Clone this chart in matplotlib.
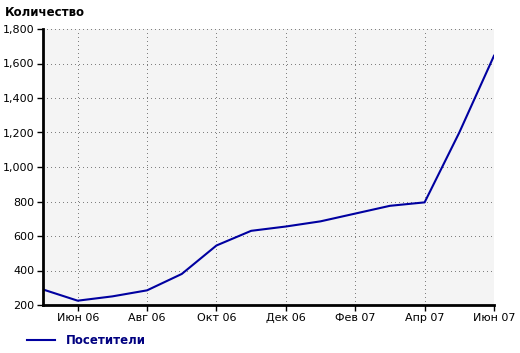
import matplotlib.pyplot as plt
import numpy as np
from matplotlib.lines import Line2D

months = ['Май 06', 'Июн 06', 'Июл 06', 'Авг 06', 'Сен 06', 'Окт 06', 'Ноя 06',
          'Дек 06', 'Янв 07', 'Фев 07', 'Мар 07', 'Апр 07', 'Май 07', 'Июн 07']
visitors = [290, 225, 250, 285, 380, 545, 630, 655, 685, 730, 775, 795, 1200, 1645]
tick_labels = ['Июн 06', 'Авг 06', 'Окт 06', 'Дек 06', 'Фев 07', 'Апр 07', 'Июн 07']
y_ticks = [200, 400, 600, 800, 1000, 1200, 1400, 1600, 1800]

plt.rcParams['font.family'] = ['DejaVu Sans']

fig = plt.figure(figsize=(5.2, 3.53), dpi=100)
ax = fig.add_axes([43 / 520, 1 - 305 / 353, 451 / 520, 276 / 353])
ax.set_facecolor('#f4f4f4')

x = np.arange(len(months))
ax.plot(x, visitors, color='#0000a0', linewidth=1.5)

ax.set_xlim(0, len(months) - 1)
ax.set_ylim(200, 1800)
x_idx = [months.index(m) for m in tick_labels]
ax.set_xticks(x_idx)
ax.set_xticklabels(tick_labels, fontsize=8)
ax.set_yticks(y_ticks)
ax.set_yticklabels([f'{v:,}' for v in y_ticks], fontsize=8)
ax.tick_params(direction='out', length=4, width=1, color='black', pad=2)

# dotted grid: 1px dot, 3px gap
ax.grid(True, linestyle=(0, (1, 3)), color='#808080', linewidth=0.72,
        antialiased=False)
for side in ['top', 'right']:
    ax.spines[side].set_visible(False)
for side in ['left', 'bottom']:
    ax.spines[side].set_linewidth(2)
    ax.spines[side].set_color('black')

fig.text(5 / 520, 1 - 12 / 353, 'Количество', fontsize=8.5, fontweight='bold',
         va='center', ha='left')

handle = Line2D([], [], color='#0000a0', linewidth=1.5)
leg = fig.legend([handle], ['Посетители'], loc='center left',
                 bbox_to_anchor=(16 / 520, 1 - 341 / 353), frameon=False,
                 handlelength=2.4, handletextpad=0.9,
                 prop={'size': 8.5, 'weight': 'bold'})
for t in leg.get_texts():
    t.set_color('#000080')

plt.savefig('out.png', dpi=100)
